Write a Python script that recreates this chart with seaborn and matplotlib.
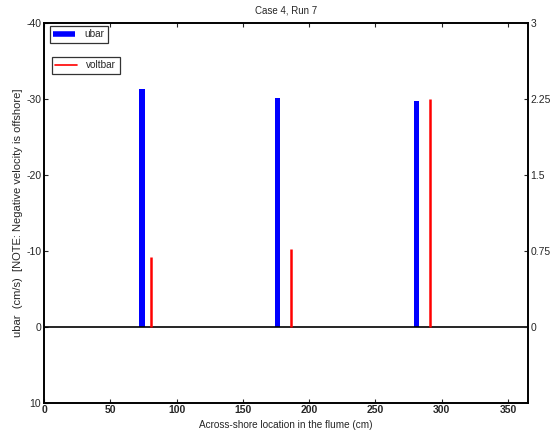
import matplotlib
matplotlib.use('Agg')
import matplotlib.pyplot as plt
import seaborn as sns
from matplotlib.lines import Line2D

ubar_x = [74, 176, 281]
ubar = [-31.3, -30.2, -29.8]
volt_x = [81, 186, 291]
voltbar = [0.69, 0.77, 2.255]

left_ticks = [-40, -30, -20, -10, 0, 10]
right_ticks = [0, 0.75, 1.5, 2.25, 3]
x_ticks = [0, 50, 100, 150, 200, 250, 300, 350]

sns.set_style('white')
plt.rcParams['font.family'] = ['Liberation Sans', 'DejaVu Sans']
fs_tick = 7.5
fs_lab = 7.2

fig = plt.figure(figsize=(5.55, 4.37), dpi=100)
ax = fig.add_axes([0.0793, 0.0785, 0.8717, 0.8685])

sns.barplot(x=ubar_x, y=ubar, native_scale=True, width=0.04,
            color='#0000ff', saturation=1, edgecolor='none', ax=ax)
ax.axhline(0, color='black', lw=1.2)
ax.set_xlim(0, 365)
ax.set_ylim(10, -40)
ax.set_yticks(left_ticks)
ax.set_yticklabels([str(t) for t in left_ticks], fontsize=fs_tick)
ax.set_xticks(x_ticks)
ax.set_xticklabels([str(t) for t in x_ticks], fontsize=fs_tick, fontweight='bold')
ax.tick_params(direction='in', length=3, width=0.8, top=True, bottom=True,
               left=True, pad=2)
ax.set_xlabel('Across-shore location in the flume (cm)', fontsize=fs_lab, labelpad=3)
ax.set_ylabel('ubar  (cm/s)  [NOTE: Negative velocity is offshore]', fontsize=8, labelpad=2)
ax.set_title('Case 4, Run 7', fontsize=7, pad=7)
for s in ax.spines.values():
    s.set_color('black')
    s.set_linewidth(1.2)

ax2 = ax.twinx()
ax2.vlines(volt_x, 0, voltbar, color='#ff0000', lw=1.8)
ax2.set_ylim(-0.75, 3)
ax2.set_yticks(right_ticks)
ax2.set_yticklabels([str(t) for t in right_ticks], fontsize=fs_tick)
ax2.tick_params(direction='in', length=3, width=0.8, right=True, pad=2)
for s in ax2.spines.values():
    s.set_color('black')
    s.set_linewidth(1.2)

leg1 = ax.legend([Line2D([], [], color='#0000ff', lw=4, solid_capstyle='butt')], ['ubar'],
                 loc='upper left', bbox_to_anchor=(0.012, 0.993), fontsize=fs_lab,
                 frameon=True, fancybox=False, edgecolor='black',
                 handlelength=2.2, handletextpad=0.9, borderpad=0.35, borderaxespad=0)
leg1.get_frame().set_linewidth(0.9)
leg2 = ax2.legend([Line2D([], [], color='#ff0000', lw=1.2)], ['voltbar'],
                  loc='upper left', bbox_to_anchor=(0.016, 0.912), fontsize=fs_lab,
                  frameon=True, fancybox=False, edgecolor='black',
                  handlelength=2.2, handletextpad=0.9, borderpad=0.35, borderaxespad=0)
leg2.get_frame().set_linewidth(0.9)

fig.savefig('out.png', dpi=100)
